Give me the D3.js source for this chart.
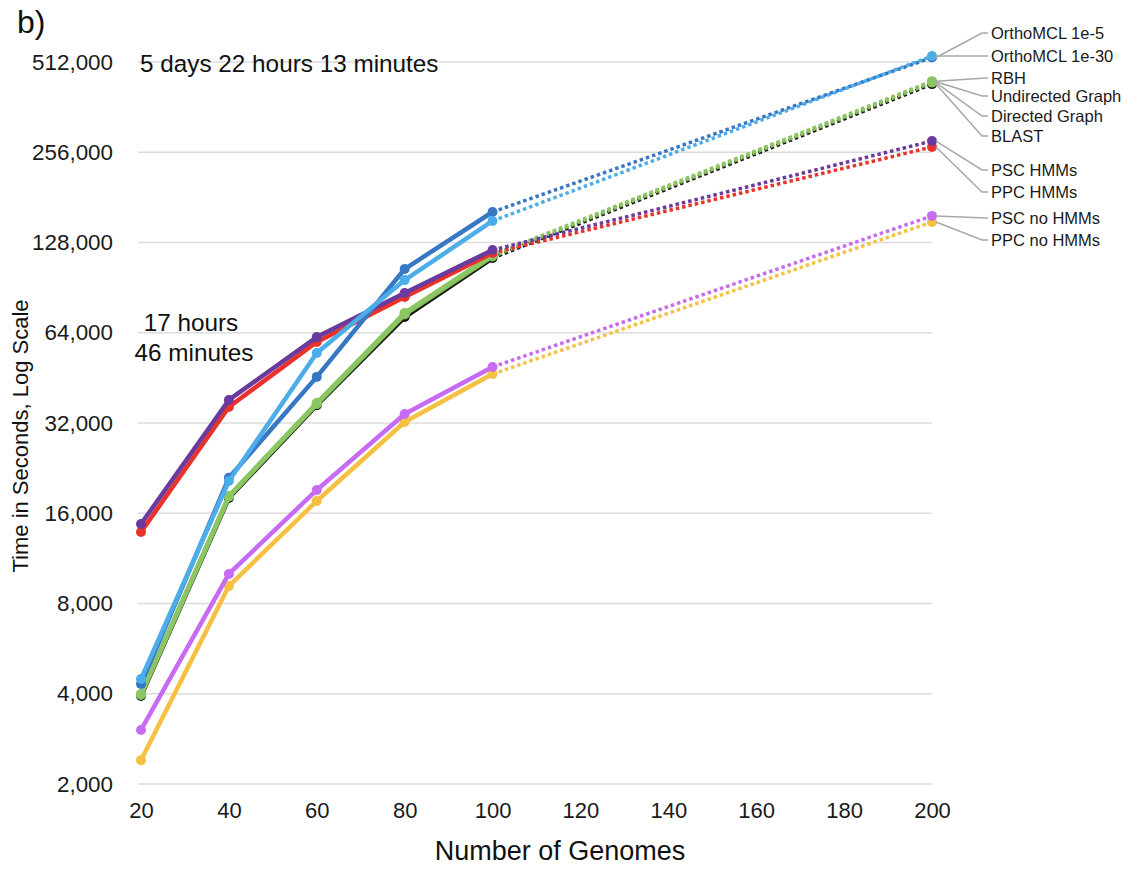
<!DOCTYPE html>
<html><head><meta charset="utf-8">
<script src="https://cdn.jsdelivr.net/npm/d3@7"></script>
<style>body{margin:0;background:#fff}svg{font-family:"Liberation Sans",Arial,Helvetica,sans-serif}</style>
</head><body>
<svg id="c" width="1129" height="869"></svg>
<script>
const genomes = [20, 40, 60, 80, 100, 200];
const yTicks = [2000, 4000, 8000, 16000, 32000, 64000, 128000, 256000, 512000];
const xTicks = [20, 40, 60, 80, 100, 120, 140, 160, 180, 200];

const blast        = [3930, 17990, 36700, 72200, 113600, 432000];
const directed     = [3960, 18150, 37000, 73600, 115000, 437000];
const undirected   = [3980, 18220, 37200, 74100, 115800, 440000];
const rbh          = [3990, 18270, 37300, 74500, 116300, 442000];
const ppcHmm       = [13850, 36200, 59600, 84200, 118100, 266600];
const pscHmm       = [14730, 38200, 61900, 86800, 120800, 279000];
const ortho1e5     = [4310, 21000, 45600, 104400, 161800, 530000];
const ortho1e30    = [4480, 20500, 54800, 95900, 151000, 536000];
const ppcNoHmm     = [2400, 9150, 17580, 32240, 46600, 149800];
const pscNoHmm     = [3030, 10040, 19130, 34300, 49200, 157000];

const seriesNames  = ["BLAST","Directed Graph","Undirected Graph","RBH","PPC HMMs","PSC HMMs","OrthoMCL 1e-5","OrthoMCL 1e-30","PPC no HMMs","PSC no HMMs"];
const seriesValues = [blast, directed, undirected, rbh, ppcHmm, pscHmm, ortho1e5, ortho1e30, ppcNoHmm, pscNoHmm];
const seriesColors = ["#141414","#7dba4f","#83bf55","#8cc563","#e8322a","#6a3a9e","#3877c4","#4dade9","#f6c143","#c76cf2"];

// legend labels (top to bottom) and the series they point to
const legendNames = ["OrthoMCL 1e-5","OrthoMCL 1e-30","RBH","Undirected Graph","Directed Graph","BLAST","PSC HMMs","PPC HMMs","PSC no HMMs","PPC no HMMs"];
const legendY     = [33, 56, 78, 96, 116, 136, 170, 192, 218, 240];

const svg = d3.select("#c");
const x = d3.scaleLinear().domain([20, 200]).range([141, 932]);
const y = d3.scaleLog().base(2).domain([2000, 512000]).range([784, 62]);

// gridlines
svg.append("g").selectAll("line").data(yTicks).join("line")
  .attr("x1", x(20) - 3).attr("x2", x(200))
  .attr("y1", d => y(d)).attr("y2", d => y(d))
  .attr("stroke", "#dcdcdc").attr("stroke-width", 1.5);

// y axis labels
const yAxis = d3.axisLeft(y).tickValues(yTicks).tickFormat(d3.format(",")).tickSize(0).tickPadding(0);
const gy = svg.append("g").attr("transform", "translate(113,0)").call(yAxis);
gy.select(".domain").remove();
gy.selectAll("text").attr("font-size", 22.4).attr("fill", "#1a1a1a").attr("font-family", "Liberation Sans, Arial, sans-serif");

// x axis labels
const xAxis = d3.axisBottom(x).tickValues(xTicks).tickSize(0).tickPadding(0);
const gx = svg.append("g").attr("transform", "translate(0,802)").call(xAxis);
gx.select(".domain").remove();
gx.selectAll("text").attr("font-size", 22).attr("fill", "#1a1a1a").attr("font-family", "Liberation Sans, Arial, sans-serif");

// series
const solidLine = d3.line().x((d, i) => x(genomes[i])).y(d => y(d));
seriesValues.forEach((vals, si) => {
  const col = seriesColors[si];
  const g = svg.append("g");
  const solid = vals.slice(0, 5);
  g.append("path").datum(solid).attr("d", solidLine)
    .attr("fill", "none").attr("stroke", col).attr("stroke-width", 4.5)
    .attr("stroke-linejoin", "round");
  g.append("line")
    .attr("x1", x(genomes[4])).attr("y1", y(vals[4]))
    .attr("x2", x(genomes[5])).attr("y2", y(vals[5]))
    .attr("stroke", col).attr("stroke-width", 3.5).attr("stroke-dasharray", "3.5,3");
  g.selectAll("circle").data(vals).join("circle")
    .attr("cx", (d, i) => x(genomes[i])).attr("cy", d => y(d)).attr("r", 5)
    .attr("fill", col);
});

// legend leader lines + labels
const lg = svg.append("g");
legendNames.forEach((name, li) => {
  const si = seriesNames.indexOf(name);
  const vals = seriesValues[si];
  const px = x(200) + 4, py = y(vals[5]);
  const ly = legendY[li];
  const kx = Math.abs(ly - py) < 4 ? 986 : 982;
  lg.append("polyline")
    .attr("points", `${px},${py} ${kx},${ly} ${988},${ly}`)
    .attr("fill", "none").attr("stroke", "#a8a8a8").attr("stroke-width", 1.5);
  lg.append("text").attr("x", 991).attr("y", ly).attr("dy", "0.35em")
    .attr("font-size", 16.5).attr("fill", "#1a1a1a").text(name);
});

// annotations
svg.append("text").attr("x", 17).attr("y", 22).attr("dy", "0.35em").attr("font-size", 32).attr("fill", "#111").text("b)");
svg.append("text").attr("x", 140).attr("y", 63).attr("dy", "0.35em").attr("font-size", 24.3).attr("fill", "#111").text("5 days 22 hours 13 minutes");
svg.append("text").attr("x", 191).attr("y", 322).attr("dy", "0.35em").attr("text-anchor", "middle").attr("font-size", 24.3).attr("fill", "#111").text("17 hours");
svg.append("text").attr("x", 194).attr("y", 352).attr("dy", "0.35em").attr("text-anchor", "middle").attr("font-size", 24.3).attr("fill", "#111").text("46 minutes");

// axis titles
svg.append("text").attr("x", 560).attr("y", 851).attr("dy", "0.35em").attr("text-anchor", "middle").attr("font-size", 27).attr("fill", "#111").text("Number of Genomes");
svg.append("text").attr("transform", "translate(20,436) rotate(-90)").attr("dy", "0.35em").attr("text-anchor", "middle").attr("font-size", 22).attr("fill", "#111").text("Time in Seconds, Log Scale");
</script>
</body></html>
